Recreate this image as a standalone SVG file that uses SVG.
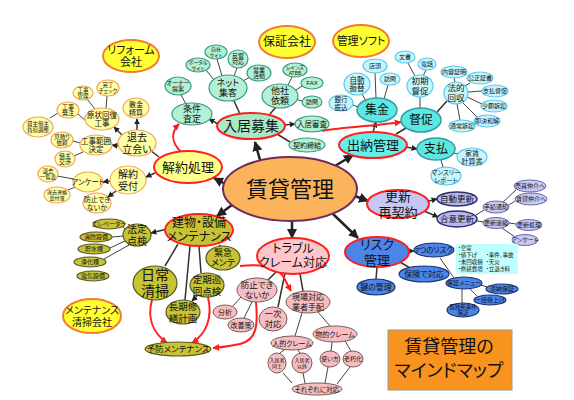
<svg xmlns="http://www.w3.org/2000/svg" width="574" height="400" viewBox="0 0 574 400">
<defs>
<marker id="ah" viewBox="0 0 10 10" refX="9" refY="5" markerWidth="4" markerHeight="4" orient="auto" markerUnits="strokeWidth"><path d="M0,0L10,5L0,10z" fill="#222"/></marker>
<marker id="ar" viewBox="0 0 10 10" refX="9" refY="5" markerWidth="3.5" markerHeight="3.5" orient="auto" markerUnits="strokeWidth"><path d="M0,0L10,5L0,10z" fill="#FF1E1E"/></marker>
</defs>
<style>
.t{font-family:"Liberation Sans","Noto Sans CJK JP",sans-serif;text-anchor:middle;dominant-baseline:central;fill:#111;font-feature-settings:"palt"}
.k{stroke:#222;stroke-width:2.5;fill:none}
.k2{stroke:#333;stroke-width:1.5;fill:none}
.k3{stroke:#444;stroke-width:1;fill:none}
.r{stroke:#FF1E1E;stroke-width:2;fill:none}
.c0{fill:#FBB45C;stroke:#6E2B5E;stroke-width:2}
.m{stroke:#FF1E1E;stroke-width:2}
.fy{fill:#FFFF8A}.fg{fill:#A8EAC6}.fc{fill:#66EEEA}.fl{fill:#C6C6F2}.fb{fill:#4C84E8}.fp{fill:#FFC6CC}.fo{fill:#C8C236}
.co{fill:#FFFF33;stroke:#F27C2E;stroke-width:2}
.sy{fill:#FFFFA6;stroke:#F2A65A;stroke-width:1.2}
.sg{fill:#B4F0D2;stroke:#3A9C86;stroke-width:1.2}
.sc{fill:#5EE6E0;stroke:#2E9EA8;stroke-width:1.5}
.scl{fill:#C4F6FF;stroke:#5CC8EE;stroke-width:1.2}
.sl{fill:#B8B8EE;stroke:#2E2E70;stroke-width:1.5}
.sll{fill:#C8C8F4;stroke:#6868B0;stroke-width:1}
.sb{fill:#4C84E8;stroke:#1E3070;stroke-width:1.2}
.sp{fill:#F6BEC2;stroke:#7A5A5A;stroke-width:1}
.so{fill:#C8C236;stroke:#5A5A1E;stroke-width:1.2}
.f5{font-size:5px}.f55{font-size:5.5px}.f6{font-size:6px}.f65{font-size:6.5px}.f7{font-size:7px}.f75{font-size:7.5px}.f8{font-size:8px}.f85{font-size:8.5px}.f9{font-size:9px}.f95{font-size:9.5px}.f10{font-size:10px}.f11{font-size:11px}.f12{font-size:12px}.f13{font-size:13px}.f14{font-size:14px}.f18{font-size:18px}.f22{font-size:22px}
</style>
<rect width="574" height="400" fill="#fff"/>
<g id="connectors">
<path class="k" marker-end="url(#ah)" d="M260,160L255,142"/>
<path class="k" marker-end="url(#ah)" d="M225,184L214,178"/>
<path class="k" marker-end="url(#ah)" d="M232,205L217,216"/>
<path class="k" marker-end="url(#ah)" d="M292,221L292,238"/>
<path class="k" marker-end="url(#ah)" d="M333,214L358,238"/>
<path class="k" marker-end="url(#ah)" d="M355,196L368,201"/>
<path class="k" marker-end="url(#ah)" d="M335,166L353,155"/>
<path class="k2" marker-end="url(#ah)" d="M220,125L209,119"/>
<path class="k2" marker-end="url(#ah)" d="M284,125L295,124"/>
<path class="k2" marker-end="url(#ah)" d="M373,132L376,122"/>
<path class="k2" marker-end="url(#ah)" d="M406,147L417,149"/>
<path class="k2" marker-end="url(#ah)" d="M425,202L437,199"/>
<path class="k2" marker-end="url(#ah)" d="M424,211L438,217"/>
<path class="k2" marker-end="url(#ah)" d="M408,251L414,251"/>
<path class="k2" marker-end="url(#ah)" d="M167,229L151,233"/>
<path class="k2" d="M219,245L223,248"/>
<path class="k2" marker-end="url(#ah)" d="M137,130L137,119"/>
<path class="k2" marker-end="url(#ah)" d="M122,135L114,127"/>
<path class="k2" marker-end="url(#ah)" d="M119,146L112,145"/>
<path class="k2" d="M159,157L150,150"/>
<path class="k2" marker-end="url(#ah)" d="M155,173L146,177"/>
<path class="k2" marker-end="url(#ah)" d="M110,181L103,182"/>
<path class="k2" marker-end="url(#ah)" d="M116,191L108,197"/>
<path class="k2" marker-end="url(#ah)" d="M197,296L192,301"/>
<path class="k3" d="M95,109L87,99M106,108L107,96M86,121L78,114M58,113L50,118M80,143L73,141M83,152L74,156M74,179L57,176M75,187L68,190"/>
<path class="k2" d="M240,114L234,101M270,114L276,107M277,134L290,142"/>
<path class="k3" d="M186,104L181,95M214,80L206,70M222,76L217,59M234,76L237,68M243,81L250,77M288,85L292,77M296,90L302,86M298,100L302,101"/>
<path class="k2" d="M396,134L406,128M437,112L447,101"/>
<path class="k3" d="M366,101L362,94M376,98L375,73M384,99L388,85M358,107L353,105M420,108L420,97M415,76L408,63M423,76L426,70M455,82L454,78M465,86L470,83M468,92L482,91M467,97L482,104M462,102L477,117M457,104L460,120M454,153L458,154M441,160L443,167"/>
<path class="k3" d="M476,215L484,210M503,202L516,190M509,205L515,201M477,221L484,222M509,223L516,224M502,228L515,237"/>
<path class="k2" d="M400,262L410,268M377,267L376,279"/>
<path class="k3" d="M440,258L454,278M481,285L487,287M470,289L477,296M462,289L462,303"/>
<path class="k2" d="M277,271L268,280M285,273L278,307M300,274L303,291"/>
<path class="k3" d="M241,297L233,306M252,302L244,318M318,312L330,326M302,313L295,336M284,350L280,353M298,350L300,353M332,342L331,351M345,341L351,351M283,373L292,383M303,373L305,383M328,367L325,383M350,367L337,384"/>
<path class="k2" d="M178,244L165,266M190,246L185,300M199,246L201,273"/>
<path class="k3" d="M125,229L122,226M123,236L112,237M125,241L110,248M129,245L104,259"/>
<path class="r" marker-end="url(#ar)" d="M181,152C171,142 171,132 179,124"/>
<path class="r" marker-end="url(#ar)" d="M322,131C345,127 375,126 401,122"/>
<path class="r" marker-end="url(#ar)" d="M240,266C258,264 275,266 283,276L291,291"/>
<path class="r" marker-end="url(#ar)" d="M256,302C258,325 257,340 240,344Q226,347 213,348"/>
<path class="r" marker-end="url(#ar)" d="M152,300C147,318 153,333 167,343"/>
<path class="r" marker-end="url(#ar)" d="M208,297C213,318 206,334 192,343"/>
</g>
<g id="n-center"><ellipse class="c0" cx="290" cy="189" rx="67" ry="32"/><text class="t f22" x="290" y="189">賃貸管理</text></g>
<g id="n-reform"><ellipse class="co" cx="131" cy="56" rx="28" ry="16"/><text class="t f11" x="131" y="56"><tspan x="131" dy="-.58em">リフォーム</tspan><tspan x="131" dy="1.16em">会社</tspan></text></g>
<g id="n-hosho"><ellipse class="co" cx="287" cy="42" rx="28" ry="16"/><text class="t f12" x="287" y="42">保証会社</text></g>
<g id="n-soft"><ellipse class="co" cx="361" cy="41" rx="28" ry="16"/><text class="t f11" x="361" y="41">管理ソフト</text></g>
<g id="n-mclean"><ellipse class="co" cx="92" cy="316" rx="29" ry="17"/><text class="t f10" x="92" y="316"><tspan x="92" dy="-.58em">メンテナンス</tspan><tspan x="92" dy="1.16em">清掃会社</tspan></text></g>

<g id="n-kaiyaku"><ellipse class="m fy" cx="188" cy="167" rx="34" ry="16"/><text class="t f13" x="188" y="167">解約処理</text></g>
<g id="n-taikyo"><ellipse class="sy" cx="137" cy="143" rx="19" ry="13"/><text class="t f10" x="137" y="143"><tspan x="137" dy="-.58em">退去</tspan><tspan x="137" dy="1.16em">立会い</tspan></text></g>
<g id="n-uketsuke"><ellipse class="sy" cx="128" cy="180" rx="18" ry="14"/><text class="t f10" x="128" y="180"><tspan x="128" dy="-.58em">解約</tspan><tspan x="128" dy="1.16em">受付</tspan></text></g>
<g id="n-shikikin"><ellipse class="sy" cx="136" cy="108" rx="13" ry="10"/><text class="t f7" x="136" y="108"><tspan x="136" dy="-.58em">敷金</tspan><tspan x="136" dy="1.16em">精算</tspan></text></g>
<g id="n-genjo"><ellipse class="sy" cx="102" cy="119" rx="17" ry="11"/><text class="t f75" x="102" y="119"><tspan x="102" dy="-.58em">原状回復</tspan><tspan x="102" dy="1.16em">工事</tspan></text></g>
<g id="n-kanri"><ellipse class="sy" cx="83" cy="93" rx="10" ry="7"/><text class="t f55" x="83" y="93"><tspan x="83" dy="-.58em">工事</tspan><tspan x="83" dy="1.16em">管理</tspan></text></g>
<g id="n-kanryo"><ellipse class="sy" cx="108" cy="88" rx="11" ry="8"/><text class="t f55" x="108" y="88"><tspan x="108" dy="-.58em">完了</tspan><tspan x="108" dy="1.16em">チェック</tspan></text></g>
<g id="n-hatchu"><ellipse class="sy" cx="68" cy="110" rx="11" ry="8"/><text class="t f6" x="68" y="110"><tspan x="68" dy="-.58em">工事</tspan><tspan x="68" dy="1.16em">発注</tspan></text></g>
<g id="n-futan"><ellipse class="sy" cx="38" cy="127" rx="15" ry="10"/><text class="t f55" x="38" y="127"><tspan x="38" dy="-.58em">貸主借主</tspan><tspan x="38" dy="1.16em">負担調整</tspan></text></g>
<g id="n-mitsumori"><ellipse class="sy" cx="62" cy="140" rx="11" ry="8"/><text class="t f55" x="62" y="140"><tspan x="62" dy="-.58em">見積り</tspan><tspan x="62" dy="1.16em">依頼</tspan></text></g>
<g id="n-hani"><ellipse class="sy" cx="96" cy="145" rx="16" ry="10"/><text class="t f75" x="96" y="145"><tspan x="96" dy="-.58em">工事範囲</tspan><tspan x="96" dy="1.16em">決定</tspan></text></g>
<g id="n-kosho"><ellipse class="sy" cx="65" cy="159" rx="10" ry="8"/><text class="t f6" x="65" y="159"><tspan x="65" dy="-.58em">借主</tspan><tspan x="65" dy="1.16em">交渉</tspan></text></g>
<g id="n-enq1"><ellipse class="sy" cx="88" cy="182" rx="15" ry="10"/><text class="t f75" x="88" y="182">アンケート</text></g>
<g id="n-ichiran"><ellipse class="sy" cx="48" cy="174" rx="10" ry="8"/><text class="t f55" x="48" y="174"><tspan x="48" dy="-.58em">退去</tspan><tspan x="48" dy="1.16em">一覧表</tspan></text></g>
<g id="n-renraku"><ellipse class="sy" cx="57" cy="195" rx="13" ry="8"/><text class="t f5" x="57" y="195"><tspan x="57" dy="-.58em">退去連絡</tspan><tspan x="57" dy="1.16em">受付簿</tspan></text></g>
<g id="n-boshi1"><ellipse class="sy" cx="97" cy="203" rx="14" ry="10"/><text class="t f7" x="97" y="203"><tspan x="97" dy="-.58em">防止でき</tspan><tspan x="97" dy="1.16em">ないか</tspan></text></g>

<g id="n-boshu"><ellipse class="m fg" cx="251" cy="126" rx="34" ry="13"/><text class="t f14" x="251" y="126">入居募集</text></g>
<g id="n-joken"><ellipse class="sg" cx="192" cy="114" rx="20" ry="11"/><text class="t f9" x="192" y="114"><tspan x="192" dy="-.58em">条件</tspan><tspan x="192" dy="1.16em">査定</tspan></text></g>
<g id="n-owner"><ellipse class="sg" cx="178" cy="86" rx="13" ry="9"/><text class="t f6" x="178" y="86"><tspan x="178" dy="-.58em">オーナー</tspan><tspan x="178" dy="1.16em">提案</tspan></text></g>
<g id="n-net"><ellipse class="sg" cx="228" cy="88" rx="19" ry="13"/><text class="t f9" x="228" y="88"><tspan x="228" dy="-.58em">ネット</tspan><tspan x="228" dy="1.16em">集客</tspan></text></g>
<g id="n-portal"><ellipse class="sg" cx="198" cy="65" rx="12" ry="7"/><text class="t f5" x="198" y="65"><tspan x="198" dy="-.58em">ポータル</tspan><tspan x="198" dy="1.16em">サイト</tspan></text></g>
<g id="n-jisha"><ellipse class="sg" cx="216" cy="52" rx="11" ry="7"/><text class="t f5" x="216" y="52"><tspan x="216" dy="-.58em">自社</tspan><tspan x="216" dy="1.16em">サイト</tspan></text></g>
<g id="n-hankyo"><ellipse class="sg" cx="238" cy="59" rx="10" ry="9"/><text class="t f6" x="238" y="59"><tspan x="238" dy="-.58em">反響</tspan><tspan x="238" dy="1.16em">対応</tspan></text></g>
<g id="n-eigyo"><ellipse class="sg" cx="259" cy="73" rx="12" ry="8"/><text class="t f6" x="259" y="73"><tspan x="259" dy="-.58em">営業</tspan><tspan x="259" dy="1.16em">活動</tspan></text></g>
<g id="n-tasha"><ellipse class="sg" cx="280" cy="96" rx="18" ry="12"/><text class="t f9" x="280" y="96"><tspan x="280" dy="-.58em">他社</tspan><tspan x="280" dy="1.16em">依頼</tspan></text></g>
<g id="n-reins"><ellipse class="sg" cx="295" cy="70" rx="12" ry="7"/><text class="t f5" x="295" y="70"><tspan x="295" dy="-.58em">レインズ</tspan><tspan x="295" dy="1.16em">ATBB</tspan></text></g>
<g id="n-fax"><ellipse class="sg" cx="312" cy="83" rx="11" ry="6"/><text class="t f6" x="312" y="83">FAX</text></g>
<g id="n-homon1"><ellipse class="sg" cx="312" cy="102" rx="10" ry="6"/><text class="t f6" x="312" y="102">訪問</text></g>
<g id="n-shinsa"><ellipse class="sg" cx="312" cy="124" rx="17" ry="8"/><text class="t f75" x="312" y="124">入居審査</text></g>
<g id="n-keiyaku"><ellipse class="sg" cx="307" cy="145" rx="18" ry="7"/><text class="t f7" x="307" y="145">契約締結</text></g>

<g id="n-suito"><ellipse class="m fc" cx="373" cy="145" rx="34" ry="13"/><text class="t f13" x="373" y="145">出納管理</text></g>
<g id="n-shukin"><ellipse class="sc" cx="377" cy="110" rx="20" ry="12"/><text class="t f12" x="377" y="110">集金</text></g>
<g id="n-tokusoku"><ellipse class="sc" cx="421" cy="120" rx="20" ry="12"/><text class="t f12" x="421" y="120">督促</text></g>
<g id="n-shiharai"><ellipse class="sc" cx="436" cy="149" rx="19" ry="11"/><text class="t f12" x="436" y="149">支払</text></g>
<g id="n-furikae"><ellipse class="scl" cx="357" cy="84" rx="13" ry="11"/><text class="t f75" x="357" y="84"><tspan x="357" dy="-.58em">自動</tspan><tspan x="357" dy="1.16em">振替</tspan></text></g>
<g id="n-tento"><ellipse class="scl" cx="375" cy="66" rx="12" ry="7"/><text class="t f6" x="375" y="66">店頭</text></g>
<g id="n-homon2"><ellipse class="scl" cx="390" cy="79" rx="10" ry="6"/><text class="t f6" x="390" y="79">訪問</text></g>
<g id="n-furikomi"><ellipse class="scl" cx="341" cy="103" rx="12" ry="8"/><text class="t f65" x="341" y="103"><tspan x="341" dy="-.58em">銀行</tspan><tspan x="341" dy="1.16em">振込</tspan></text></g>
<g id="n-bunsho"><ellipse class="scl" cx="405" cy="57" rx="10" ry="6"/><text class="t f6" x="405" y="57">文書</text></g>
<g id="n-denwa"><ellipse class="scl" cx="427" cy="64" rx="9" ry="6"/><text class="t f6" x="427" y="64">電話</text></g>
<g id="n-shoki"><ellipse class="scl" cx="420" cy="86" rx="13" ry="11"/><text class="t f85" x="420" y="86"><tspan x="420" dy="-.58em">初期</tspan><tspan x="420" dy="1.16em">督促</tspan></text></g>
<g id="n-naiyo"><ellipse class="scl" cx="454" cy="72" rx="13" ry="6"/><text class="t f6" x="454" y="72">内容証明</text></g>
<g id="n-hoteki"><ellipse class="scl" cx="456" cy="93" rx="12" ry="11"/><text class="t f85" x="456" y="93"><tspan x="456" dy="-.58em">法的</tspan><tspan x="456" dy="1.16em">回収</tspan></text></g>
<g id="n-kosei"><ellipse class="scl" cx="480" cy="78" rx="13" ry="6"/><text class="t f6" x="480" y="78">公正証書</text></g>
<g id="n-shitoku"><ellipse class="scl" cx="495" cy="91" rx="13" ry="6"/><text class="t f6" x="495" y="91">支払督促</text></g>
<g id="n-shogaku"><ellipse class="scl" cx="494" cy="106" rx="13" ry="6"/><text class="t f6" x="494" y="106">少額訴訟</text></g>
<g id="n-sokketsu"><ellipse class="scl" cx="487" cy="121" rx="13" ry="6"/><text class="t f6" x="487" y="121">即決和解</text></g>
<g id="n-tsujo"><ellipse class="scl" cx="462" cy="126" rx="13" ry="6"/><text class="t f6" x="462" y="126">通常訴訟</text></g>
<g id="n-yachin"><ellipse class="scl" cx="472" cy="157" rx="15" ry="9"/><text class="t f7" x="472" y="157"><tspan x="472" dy="-.58em">家賃</tspan><tspan x="472" dy="1.16em">計算書</tspan></text></g>
<g id="n-monthly"><ellipse class="scl" cx="446" cy="176" rx="15" ry="9"/><text class="t f65" x="446" y="176"><tspan x="446" dy="-.58em">マンスリー</tspan><tspan x="446" dy="1.16em">レポート</tspan></text></g>

<g id="n-koshin"><ellipse class="m fl" cx="398" cy="204" rx="31" ry="14"/><text class="t f13" x="398" y="204"><tspan x="398" dy="-.58em">更新</tspan><tspan x="398" dy="1.16em">再契約</tspan></text></g>
<g id="n-jido"><ellipse class="sl" cx="457" cy="199" rx="20" ry="7"/><text class="t f85" x="457" y="199">自動更新</text></g>
<g id="n-goi"><ellipse class="sl" cx="457" cy="219" rx="20" ry="8"/><text class="t f85" x="457" y="219">合意更新</text></g>
<g id="n-tetsuzuki"><ellipse class="sll" cx="496" cy="207" rx="13" ry="6"/><text class="t f6" x="496" y="207">手続通知</text></g>
<g id="n-baibai"><ellipse class="sll" cx="530" cy="186" rx="16" ry="6"/><text class="t f6" x="530" y="186">売買仲介へ</text></g>
<g id="n-chintai"><ellipse class="sll" cx="531" cy="199" rx="16" ry="6"/><text class="t f6" x="531" y="199">賃貸仲介へ</text></g>
<g id="n-krenraku"><ellipse class="sll" cx="496" cy="223" rx="13" ry="5.5"/><text class="t f6" x="496" y="223">更新連絡</text></g>
<g id="n-kshori"><ellipse class="sll" cx="529" cy="225" rx="13" ry="5.5"/><text class="t f6" x="529" y="225">更新処理</text></g>
<g id="n-enq2"><ellipse class="sll" cx="525" cy="240" rx="13" ry="5.5"/><text class="t f6" x="525" y="240">アンケート</text></g>

<g id="n-risk"><ellipse class="m fb" cx="377" cy="252" rx="32" ry="15"/><text class="t f13" x="377" y="252"><tspan x="377" dy="-.58em">リスク</tspan><tspan x="377" dy="1.16em">管理</tspan></text></g>
<g id="n-7risk"><ellipse class="sb" cx="434" cy="250" rx="20" ry="7"/><text class="t f75" x="434" y="250">7つのリスク</text></g>
<g id="n-risklist"><rect x="456" y="244" width="62" height="30" fill="#BFFFFF"/>
<text class="t f55" style="text-anchor:start" x="458" y="248">・空室</text>
<text class="t f55" style="text-anchor:start" x="458" y="255">・値下げ</text><text class="t f55" style="text-anchor:start" x="486" y="255">・事件、事故</text>
<text class="t f55" style="text-anchor:start" x="458" y="262">・未回収損</text><text class="t f55" style="text-anchor:start" x="486" y="262">・天災</text>
<text class="t f55" style="text-anchor:start" x="458" y="269">・修繕費増</text><text class="t f55" style="text-anchor:start" x="486" y="269">・立退き料</text></g>
<g id="n-hoken"><ellipse class="sb" cx="424" cy="274" rx="25" ry="8"/><text class="t f8" x="424" y="274">保険で対応</text></g>
<g id="n-kagi"><ellipse class="sb" cx="376" cy="287" rx="19" ry="8"/><text class="t f8" x="376" y="287">鍵の管理</text></g>
<g id="n-menu"><ellipse class="sb" cx="464" cy="283" rx="18" ry="6"/><text class="t f6" x="464" y="283">保証メニュー</text></g>
<g id="n-tainou"><ellipse class="sb" cx="502" cy="289" rx="16" ry="5"/><text class="t f6" x="502" y="289">滞納保証</text></g>
<g id="n-ikkatsu"><ellipse class="sb" cx="490" cy="300" rx="16" ry="5"/><text class="t f6" x="490" y="300">一括借上げ</text></g>
<g id="n-kodoku"><ellipse class="sb" cx="463" cy="310" rx="16" ry="7"/><text class="t f55" x="463" y="310"><tspan x="463" dy="-.58em">孤独死事件</tspan><tspan x="463" dy="1.16em">保証</tspan></text></g>

<g id="n-trouble"><ellipse class="m fp" cx="293" cy="256" rx="36" ry="18"/><text class="t f12" x="293" y="256"><tspan x="293" dy="-.58em">トラブル</tspan><tspan x="293" dy="1.16em">クレーム対応</tspan></text></g>
<g id="n-kinkyu"><ellipse class="so" cx="223" cy="258" rx="17" ry="12"/><text class="t f9" x="223" y="258"><tspan x="223" dy="-.58em">緊急</tspan><tspan x="223" dy="1.16em">メンテ</tspan></text></g>
<g id="n-boshi2"><ellipse class="sp" cx="257" cy="290" rx="20" ry="12"/><text class="t f85" x="257" y="290"><tspan x="257" dy="-.58em">防止でき</tspan><tspan x="257" dy="1.16em">ないか</tspan></text></g>
<g id="n-bunseki"><ellipse class="sp" cx="225" cy="312" rx="12" ry="7"/><text class="t f7" x="225" y="312">分析</text></g>
<g id="n-kaizen"><ellipse class="sp" cx="241" cy="325" rx="13" ry="7"/><text class="t f7" x="241" y="325">改善策</text></g>
<g id="n-ichiji"><ellipse class="sp" cx="273" cy="319" rx="14" ry="12"/><text class="t f85" x="273" y="319"><tspan x="273" dy="-.58em">一次</tspan><tspan x="273" dy="1.16em">対応</tspan></text></g>
<g id="n-genba"><ellipse class="sp" cx="308" cy="302" rx="22" ry="11"/><text class="t f8" x="308" y="302"><tspan x="308" dy="-.58em">現場対応</tspan><tspan x="308" dy="1.16em">業者手配</tspan></text></g>
<g id="n-butsu"><ellipse class="sp" cx="335" cy="334" rx="22" ry="8"/><text class="t f7" x="335" y="334">物的クレーム</text></g>
<g id="n-jin"><ellipse class="sp" cx="292" cy="343" rx="21" ry="7"/><text class="t f7" x="292" y="343">人的クレーム</text></g>
<g id="n-doshi"><ellipse class="sp" cx="277" cy="363" rx="9" ry="10"/><text class="t f5" x="277" y="363"><tspan x="277" dy="-.58em">入居者</tspan><tspan x="277" dy="1.16em">同士</tspan></text></g>
<g id="n-igai"><ellipse class="sp" cx="302" cy="363" rx="10" ry="10"/><text class="t f5" x="302" y="363"><tspan x="302" dy="-.58em">入居者</tspan><tspan x="302" dy="1.16em">以外</tspan></text></g>
<g id="n-tsukai"><ellipse class="sp" cx="330" cy="359" rx="10" ry="8"/><text class="t f6" x="330" y="359">使い方</text></g>
<g id="n-rokyu"><ellipse class="sp" cx="353" cy="359" rx="10" ry="8"/><text class="t f6" x="353" y="359">老朽化</text></g>
<g id="n-sorezore"><ellipse class="sp" cx="317" cy="389" rx="25" ry="6"/><text class="t f65" x="317" y="389">それぞれに対応</text></g>

<g id="n-tatemono"><ellipse class="m fo" cx="199" cy="230" rx="34" ry="16"/><text class="t f12" x="199" y="230"><tspan x="199" dy="-.58em">建物・設備</tspan><tspan x="199" dy="1.16em">メンテナンス</tspan></text></g>
<g id="n-hotei"><ellipse class="so" cx="137" cy="235" rx="14" ry="11"/><text class="t f10" x="137" y="235"><tspan x="137" dy="-.58em">法定</tspan><tspan x="137" dy="1.16em">点検</tspan></text></g>
<g id="n-elev"><ellipse class="so" cx="109" cy="224" rx="16" ry="5"/><text class="t f6" x="109" y="224">エレベーター</text></g>
<g id="n-shobo"><ellipse class="so" cx="96" cy="237" rx="16" ry="5"/><text class="t f6" x="96" y="237">消防設備</text></g>
<g id="n-chosui"><ellipse class="so" cx="94" cy="249" rx="16" ry="5"/><text class="t f6" x="94" y="249">貯水槽</text></g>
<g id="n-joka"><ellipse class="so" cx="90" cy="262" rx="16" ry="5"/><text class="t f6" x="90" y="262">浄化槽</text></g>
<g id="n-denki"><ellipse class="so" cx="93" cy="276" rx="16" ry="5"/><text class="t f6" x="93" y="276">電気設備</text></g>
<g id="n-nichijo"><ellipse class="so" cx="155" cy="283" rx="22" ry="17"/><text class="t f14" x="155" y="283"><tspan x="155" dy="-.58em">日常</tspan><tspan x="155" dy="1.16em">清掃</tspan></text></g>
<g id="n-teiki"><ellipse class="so" cx="207" cy="285" rx="17" ry="12"/><text class="t f95" x="207" y="285"><tspan x="207" dy="-.58em">定期巡</tspan><tspan x="207" dy="1.16em">回点検</tspan></text></g>
<g id="n-choki"><ellipse class="so" cx="183" cy="312" rx="17" ry="12"/><text class="t f95" x="183" y="312"><tspan x="183" dy="-.58em">長期修</tspan><tspan x="183" dy="1.16em">繕計画</tspan></text></g>
<g id="n-yobo"><ellipse class="so" cx="178" cy="349" rx="33" ry="7"/><text class="t f85" x="178" y="349">予防メンテナンス</text></g>

<g id="title"><rect x="388" y="330" width="124" height="60" fill="#F7931E" stroke="#999" stroke-width="1"/><text class="t f18" x="449" y="347">賃貸管理の</text><text class="t f18" x="449" y="371">マインドマップ</text></g>
</svg>
